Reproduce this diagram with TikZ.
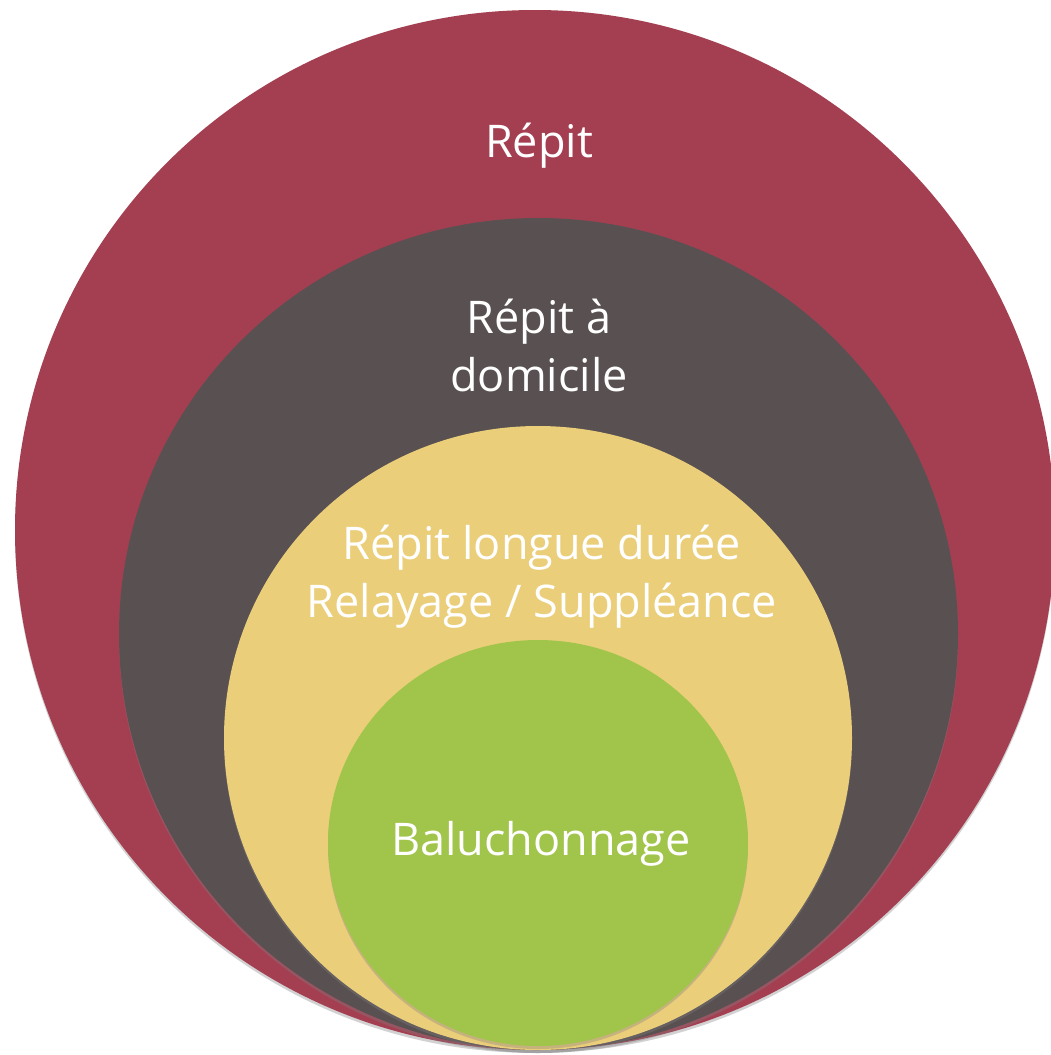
\documentclass[tikz,border=0pt]{standalone}
\usepackage{fontspec}
\setmainfont{Open Sans}
\usetikzlibrary{shadows}

\definecolor{repitred}{RGB}{164,63,82}
\definecolor{domgray}{RGB}{89,80,81}
\definecolor{longyellow}{RGB}{234,206,122}
\definecolor{balugreen}{RGB}{161,196,74}

\tikzset{
  ring/.style={drop shadow={opacity=0.35, shadow xshift=0pt, shadow yshift=-3pt}},
  ringlabel/.style={text=white, font=\fontsize{45}{58}\selectfont, align=center, inner sep=0pt}
}

\begin{document}
\begin{tikzpicture}[x=1pt, y=-1pt]
\useasboundingbox (0,0) rectangle (1050,1055);
\fill[white] (0,0) rectangle (1050,1055);

% nested rings, all touching at the bottom
\fill[ring, repitred] (535,530) ellipse [x radius=520, y radius=520];
\fill[ring, domgray] (538.5,634) ellipse [x radius=419.5, y radius=416];
\fill[ring, longyellow] (538,738) ellipse [x radius=314, y radius=312];
\fill[ring, balugreen] (538,843) ellipse [x radius=210, y radius=203];

\node[ringlabel, anchor=base] (repit) at (539,157) {Répit};
\node[ringlabel] (domicile) at (539,345) {Répit à\\domicile};
\node[ringlabel] (longue) at (542,577) {Répit longue durée\\Relayage / Suppléance};
\node[ringlabel, anchor=base] (baluchon) at (541,855) {Baluchonnage};

\end{tikzpicture}
\end{document}
